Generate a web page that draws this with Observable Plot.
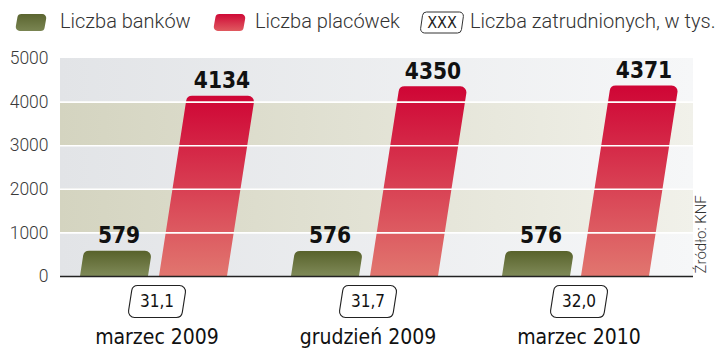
<!DOCTYPE html>
<html>
<head>
<meta charset="utf-8">
<script src="https://cdn.jsdelivr.net/npm/d3@7"></script>
<script src="https://cdn.jsdelivr.net/npm/@observablehq/plot@0.6"></script>
<style>
  html, body { margin: 0; padding: 0; background: #fff; }
  #wrap { width: 720px; height: 351px; overflow: hidden; }
  #legend { display: block; }
  .lg { font-family: Roboto, "DejaVu Sans", sans-serif; font-weight: 300; font-size: 20px; fill: #333; }
  .lgbox { font-family: "DejaVu Sans Condensed", "DejaVu Sans", sans-serif; font-size: 16px; fill: #222; }
</style>
</head>
<body>
<div id="wrap"></div>
<script>
// ---- data ----
const periods = ["marzec 2009", "grudzień 2009", "marzec 2010"];
const banks = [579, 576, 576];
const branches = [4134, 4350, 4371];
const employees = ["31,1", "31,7", "32,0"];
const yTicks = [0, 1000, 2000, 3000, 4000, 5000];
const grayBands = [[0, 1000], [2000, 3000], [4000, 5000]];
const beigeBands = [[1000, 2000], [3000, 4000]];
const seriesNames = ["Liczba banków", "Liczba placówek"];
const employeesLabel = "Liczba zatrudnionych, w tys.";
const employeesKey = "XXX";
const source = "Źródło: KNF";

const rows = periods.map((p, i) => ({period: p, banks: banks[i], branches: branches[i], emp: employees[i]}));

const wrap = document.getElementById("wrap");

// ---- legend (above the chart) ----
const ns = "http://www.w3.org/2000/svg";
const legend = d3.create("svg").attr("id", "legend").attr("width", 720).attr("height", 44);
const ldefs = legend.append("defs");
function grad(defs, id, c0, c1, horizontal) {
  const g = defs.append("linearGradient").attr("id", id)
    .attr("x1", 0).attr("y1", 0).attr("x2", horizontal ? 1 : 0).attr("y2", horizontal ? 0 : 1);
  g.append("stop").attr("offset", "0%").attr("stop-color", c0);
  g.append("stop").attr("offset", "100%").attr("stop-color", c1);
}
grad(ldefs, "lgGreen", "#5b6530", "#7a8552", false);
grad(ldefs, "lgRed", "#cf0a37", "#e05a60", false);
function slantRect(p, x, y, w, h, sh, r) {
  const B = y + h, T = y;
  p.moveTo(x + w / 2 - sh / 2, B);
  p.arcTo(x, B, x + sh, T, r);
  p.arcTo(x + sh, T, x + sh + w, T, r);
  p.arcTo(x + sh + w, T, x + w, B, r);
  p.arcTo(x + w, B, x, B, r);
  p.closePath();
  return p.toString();
}
legend.append("path").attr("d", slantRect(d3.path(), 15, 14, 29, 17, 3, 4)).attr("fill", "url(#lgGreen)");
legend.append("text").attr("class", "lg").attr("x", 60).attr("y", 28).text(seriesNames[0]);
legend.append("path").attr("d", slantRect(d3.path(), 213, 14, 30, 17, 3, 4)).attr("fill", "url(#lgRed)");
legend.append("text").attr("class", "lg").attr("x", 255).attr("y", 28).text(seriesNames[1]);
legend.append("path").attr("d", slantRect(d3.path(), 420, 12, 41, 21, 3, 4)).attr("fill", "#fff").attr("stroke", "#333").attr("stroke-width", 1);
legend.append("text").attr("class", "lgbox").attr("x", 442).attr("y", 28).attr("text-anchor", "middle").text(employeesKey);
legend.append("text").attr("class", "lg").attr("x", 470).attr("y", 28).text(employeesLabel);
wrap.appendChild(legend.node());

// ---- custom symbol: slanted rounded box ----
const boxSymbol = {
  draw(context, size) {
    const hw = 27, hh = 16, s = 2.5, r = 6;
    context.moveTo(s, -hh);
    context.arcTo(hw + s, -hh, hw - s, hh, r);
    context.arcTo(hw - s, hh, -hw - s, hh, r);
    context.arcTo(-hw - s, hh, -hw + s, -hh, r);
    context.arcTo(-hw + s, -hh, hw + s, -hh, r);
    context.closePath();
  }
};

const condensed = "'DejaVu Sans Condensed', 'DejaVu Sans', sans-serif";

const chart = Plot.plot({
  width: 720,
  height: 307,
  marginTop: 14,
  marginBottom: 75,
  marginLeft: 60,
  marginRight: 27,
  style: {fontFamily: "Roboto, 'DejaVu Sans', sans-serif", fontWeight: 300, fontSize: "17.5px", color: "#3a3a3a", background: "transparent", overflow: "visible"},
  x: {domain: periods, padding: 0, axis: null},
  y: {domain: [0, 5000], ticks: yTicks, tickSize: 0, tickPadding: 12, label: null, tickFormat: d => String(d)},
  marks: [
    Plot.rect(grayBands, {y1: d => d[0], y2: d => d[1], fill: "url(#bgGray)"}),
    Plot.rect(beigeBands, {y1: d => d[0], y2: d => d[1], fill: "url(#bgBeige)"}),
    Plot.barY(rows, {x: "period", y: "banks", fill: "url(#gGreen)", insetLeft: 20, insetRight: 123}),
    Plot.barY(rows, {x: "period", y: "branches", fill: "url(#gRed)", insetLeft: 99, insetRight: 44}),
    Plot.ruleY(yTicks.filter(t => t > 0 && t < 5000), {stroke: "#fff", strokeWidth: 1.6}),
    Plot.ruleY([0], {stroke: "#222", strokeWidth: 1.5}),
    Plot.text(rows, {x: "period", y: "banks", text: d => String(d.banks), dx: -47, dy: -8, lineAnchor: "bottom",
      fontFamily: condensed, fontWeight: "bold", fontSize: 22.5, fill: "#111"}),
    Plot.text(rows, {x: "period", y: "branches", text: d => String(d.branches), dx: 56, dy: -8, lineAnchor: "bottom",
      fontFamily: condensed, fontWeight: "bold", fontSize: 22.5, fill: "#111"}),
    Plot.dot(rows, {x: "period", frameAnchor: "bottom", dy: 25, dx: -9, symbol: boxSymbol, r: 10, fill: "#fff", stroke: "#222", strokeWidth: 1.1}),
    Plot.text(rows, {x: "period", frameAnchor: "bottom", dy: 25, dx: -9, text: "emp", lineAnchor: "middle",
      fontFamily: condensed, fontWeight: "normal", fontSize: 17, fill: "#111"}),
    Plot.text(rows, {x: "period", frameAnchor: "bottom", dy: 67, dx: -9, text: "period", lineAnchor: "bottom",
      fontFamily: condensed, fontWeight: "normal", fontSize: 21, fill: "#111"}),
    Plot.text([source], {text: d => d, frameAnchor: "bottom-right", rotate: -90, textAnchor: "start", lineAnchor: "middle",
      dx: 8, dy: -3, fontSize: 15, fill: "#333"})
  ]
});

// gradients
const svg = d3.select(chart);
const defs = svg.insert("defs", ":first-child");
grad(defs, "bgGray", "#e2e4e7", "#f6f7f8", true);
grad(defs, "bgBeige", "#d4d4c0", "#f1f1ea", true);
grad(defs, "gGreen", "#58622b", "#7f8a58", false);
grad(defs, "gRed", "#cf0535", "#e1766f", false);

// slant the bars with rounded top corners
svg.selectAll("g[aria-label='bar'] rect").each(function () {
  const x = +this.getAttribute("x"), y = +this.getAttribute("y");
  const w = +this.getAttribute("width"), h = +this.getAttribute("height");
  const B = y + h, T = y, sh = 0.155 * h, r = 6;
  const p = d3.path();
  p.moveTo(x, B);
  p.arcTo(x + sh, T, x + sh + w, T, r);
  p.arcTo(x + sh + w, T, x + w, B, r);
  p.lineTo(x + w, B);
  p.closePath();
  const path = document.createElementNS(ns, "path");
  path.setAttribute("d", p.toString());
  this.replaceWith(path);
});

wrap.appendChild(chart);
</script>
</body>
</html>
